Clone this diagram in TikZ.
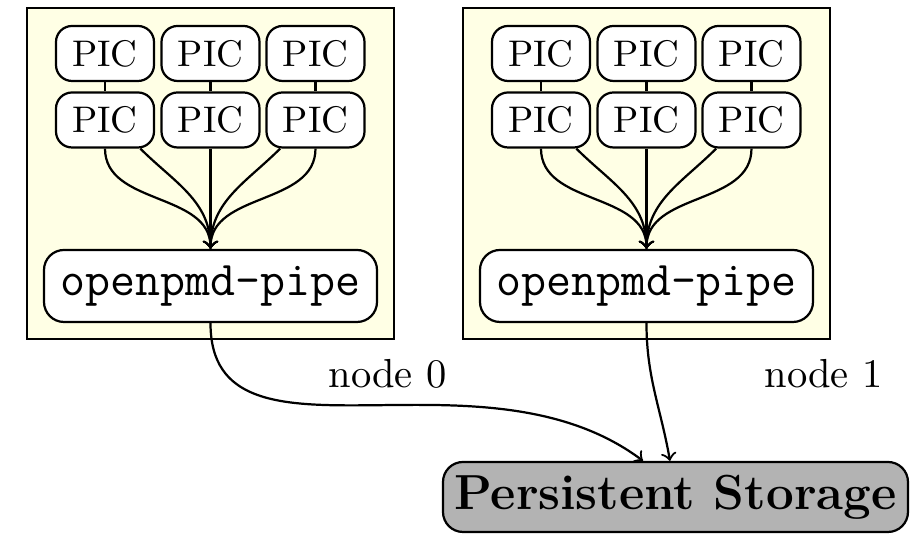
\documentclass[tikz,border=0pt]{standalone}
\usetikzlibrary{calc}
\definecolor{nodebg}{RGB}{255,255,229}
\definecolor{storagegray}{RGB}{179,179,179}
\begin{document}
% one drawing unit = 0.27pt
\begin{tikzpicture}[x=0.27pt,y=0.27pt,
  container/.style={draw, line width=0.6pt, fill=nodebg, minimum width=99.09pt,
    minimum height=89.37pt, inner sep=0pt},
  picbox/.style={draw, line width=0.6pt, fill=white, rounded corners=4.32pt,
    minimum width=26.46pt, minimum height=14.85pt, inner sep=0pt,
    font=\fontsize{10}{12}\selectfont},
  pipebox/.style={draw, line width=0.6pt, fill=white, rounded corners=5.4pt,
    minimum width=89.91pt, minimum height=19.44pt, inner sep=0pt,
    font=\fontsize{13.1}{15}\selectfont\ttfamily},
  storagebox/.style={draw, line width=0.6pt, fill=storagegray, rounded corners=5.4pt,
    minimum width=125.55pt, minimum height=18.9pt, inner sep=0pt,
    font=\fontsize{13.3}{15}\selectfont\bfseries},
  link/.style={line width=0.6pt},
  flow/.style={link, ->},
  nodelabel/.style={font=\fontsize{10.95}{13.6}\selectfont}]
\useasboundingbox (0,0) rectangle (910,534);

% shared storage
\node[storagebox] (ps) at (675.5,37) {Persistent Storage};

% one compute node: six PIC processes feeding one openpmd-pipe
\foreach \k/\ox in {0/0,1/436} {
  \node[container] (c\k) at (210.5+\ox,360.5) {};
  \node[picbox] (t\k a) at (105+\ox,480.5) {PIC};
  \node[picbox] (t\k b) at (210.5+\ox,480.5) {PIC};
  \node[picbox] (t\k c) at (315.5+\ox,480.5) {PIC};
  \node[picbox] (b\k a) at (105+\ox,414) {PIC};
  \node[picbox] (b\k b) at (210.5+\ox,414) {PIC};
  \node[picbox] (b\k c) at (315.5+\ox,414) {PIC};
  \node[pipebox] (p\k) at (210.5+\ox,248) {openpmd-pipe};
  \draw[link] (t\k a.south) -- (b\k a.north);
  \draw[link] (t\k b.south) -- (b\k b.north);
  \draw[link] (t\k c.south) -- (b\k c.north);
  \draw[flow] (b\k a.south) to[out=-90,in=90] (p\k.north);
  \draw[flow] (b\k a.-39) to[out=-45,in=90] (p\k.north);
  \draw[flow] (b\k b.south) -- (p\k.north);
  \draw[flow] (b\k c.-141) to[out=-135,in=90] (p\k.north);
  \draw[flow] (b\k c.south) to[out=-90,in=90] (p\k.north);
  \node[nodelabel] (l\k) at ($(c\k.south east)+(-7.5,-34)$) {node \k};
}

% both pipes write to the storage
\coordinate (e0) at ($(ps.north)+(-32.5,0)$);
\coordinate (e1) at ($(ps.north)+(-5.5,0)$);
\draw[flow] (p0.south) .. controls ($(p0.south)+(0,-158)$) and ($(e0)+(-163,122)$) .. (e0);
\draw[flow] (p1.south) to[out=-90,in=100] (e1);
\end{tikzpicture}
\end{document}
